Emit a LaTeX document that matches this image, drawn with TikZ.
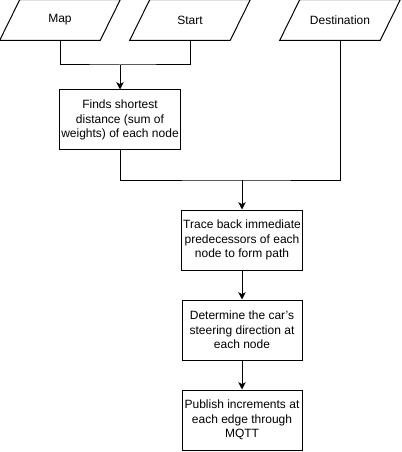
\documentclass[tikz,border=0pt]{standalone}
\usepackage{fontspec}
\setmainfont{Liberation Sans}
\usetikzlibrary{calc,arrows.meta}
\begin{document}
\begin{tikzpicture}[x=0.75pt,y=-0.75pt,
  every node/.style={font=\fontsize{9}{11}\selectfont},
  procbox/.style={draw,line width=0.75pt,minimum width=90pt,minimum height=45pt,inner sep=1pt,align=center},
  iobox/.style={draw=none,minimum width=90pt,minimum height=30pt,inner sep=0pt,align=center},
  wire/.style={line width=0.75pt},
  arr/.style={wire,-{Stealth[length=5.5pt,width=5.5pt,inset=1.5pt]}}]
\useasboundingbox (0,0) rectangle (402,452);
\node[iobox] (map) at (60,20) {Map};
\node[iobox] (start) at (190,20) {Start};
\node[iobox] (dest) at (340,20) {Destination};
\foreach \n in {map,start,dest}{
  \draw[wire] (\n.south west) -- ($(\n.north west)+(20,0)$) -- (\n.north east) -- ($(\n.south east)+(-20,0)$) -- cycle;
}
\node[procbox] (b1) at (120,120) {Finds shortest\\distance (sum of\\weights) of each node};
\node[procbox] (b2) at (242,240) {Trace back immediate\\predecessors of each\\node to form path};
\node[procbox] (b3) at (242,330) {Determine the car{\char"0027}s\\steering direction at\\each node};
\node[procbox] (b4) at (242,420) {Publish increments at\\each edge through\\MQTT};
\coordinate (j1) at (120,65);
\coordinate (j2) at (242,180);
\draw[wire] (map.south) |- (j1) -| (start.south);
\draw[arr] (j1) -- (b1.north);
\draw[wire] (b1.south) |- (j2) -| (dest.south);
\draw[arr] (j2) -- (b2.north);
\draw[arr] (b2) -- (b3);
\draw[arr] (b3) -- (b4);
\end{tikzpicture}
\end{document}
